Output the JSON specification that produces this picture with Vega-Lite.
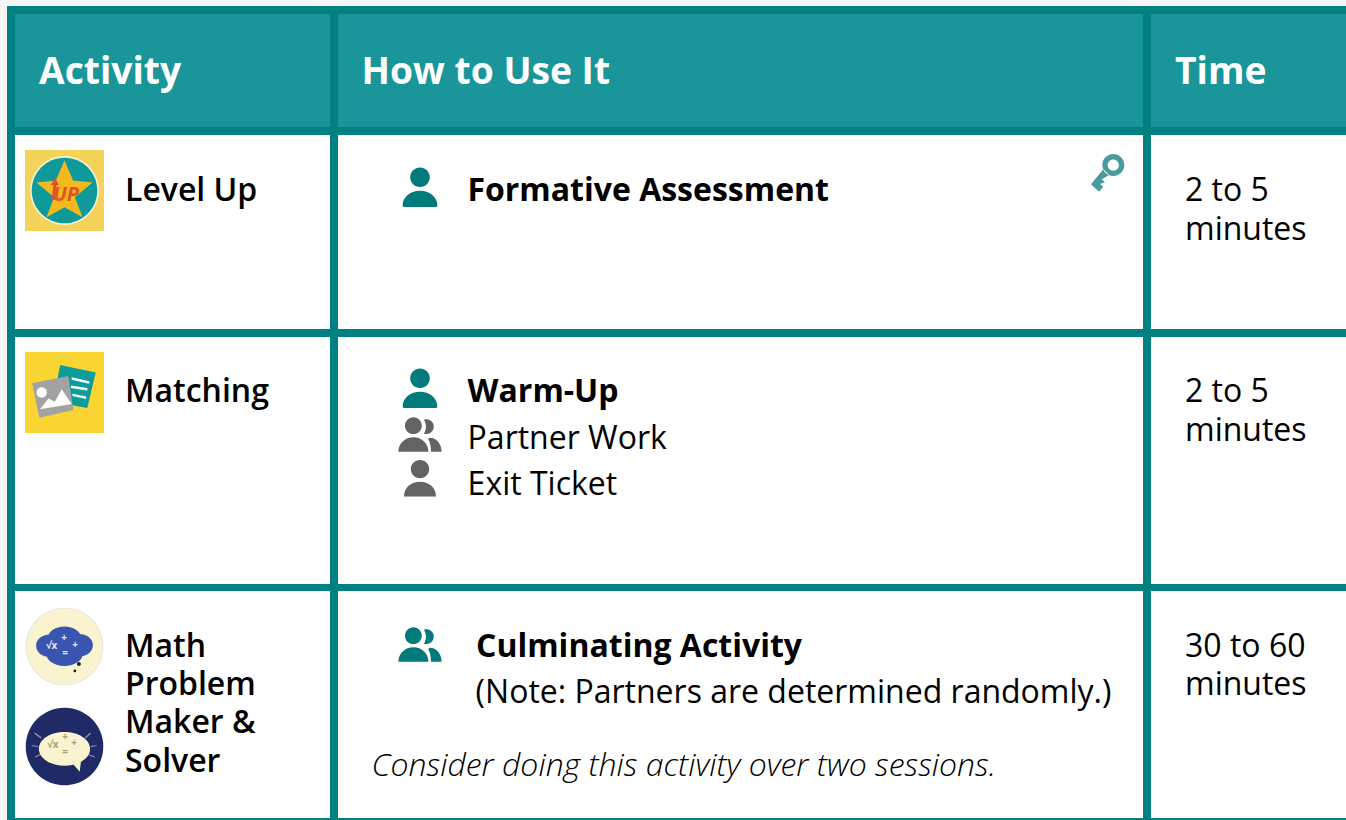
{
"$schema":"https://vega.github.io/schema/vega-lite/v6.json",
"width":1346,"height":820,"padding":0,"autosize":{"type":"none"},"background":"#f5f5f5",
"config":{"view":{"stroke":null}},
"datasets":{
"cells":[
{"part":"frame","x":7,"x2":1346,"y":6,"y2":820},
{"part":"head","x":15,"x2":330,"y":14,"y2":127},
{"part":"head","x":338,"x2":1143,"y":14,"y2":127},
{"part":"head","x":1151,"x2":1346,"y":14,"y2":127},
{"part":"body","x":15,"x2":330,"y":135,"y2":329},
{"part":"body","x":338,"x2":1143,"y":135,"y2":329},
{"part":"body","x":1151,"x2":1346,"y":135,"y2":329},
{"part":"body","x":15,"x2":330,"y":337,"y2":584},
{"part":"body","x":338,"x2":1143,"y":337,"y2":584},
{"part":"body","x":1151,"x2":1346,"y":337,"y2":584},
{"part":"body","x":15,"x2":330,"y":591,"y2":818},
{"part":"body","x":338,"x2":1143,"y":591,"y2":818},
{"part":"body","x":1151,"x2":1346,"y":591,"y2":818},
{"part":"levelup tile","x":25,"x2":104,"y":150,"y2":231},
{"part":"matching tile","x":25,"x2":104,"y":352,"y2":433}
],
"logos":[
{"part":"ring","x":64.5,"y":190.5},
{"part":"disc","x":64.5,"y":190.5},
{"part":"star","x":64.5,"y":190.5},
{"part":"arrow","x":64.5,"y":190.5},
{"part":"doc","x":64.5,"y":392.5},
{"part":"doclines","x":64.5,"y":392.5},
{"part":"photo","x":64.5,"y":392.5},
{"part":"scene","x":64.5,"y":392.5},
{"part":"creamedge","x":64.5,"y":646.5},
{"part":"cream","x":64.5,"y":646.5},
{"part":"cloud","x":64.5,"y":646.5},
{"part":"dots","x":64.5,"y":646.5},
{"part":"navy","x":64.5,"y":746.5},
{"part":"rays","x":64.5,"y":746.5},
{"part":"bubble","x":64.5,"y":746.5}
],
"icons":[
{"icon":"person teal","x":420,"y":187.5},
{"icon":"person teal","x":420,"y":388.5},
{"icon":"pair grey","x":420,"y":434.5},
{"icon":"person grey","x":420,"y":478.5},
{"icon":"pair teal","x":420,"y":644.5},
{"icon":"key","x":1107.5,"y":173.5}
],
"glyphs":[
{"t":"+","x":64,"y":637.7,"set":"cloud"},
{"t":"+","x":75,"y":645,"set":"cloud"},
{"t":"√x","x":51.7,"y":646,"set":"cloud"},
{"t":"=","x":65,"y":653.3,"set":"cloud"},
{"t":"+","x":65,"y":736.7,"set":"bubble"},
{"t":"+","x":74,"y":743,"set":"bubble"},
{"t":"√x","x":53,"y":745,"set":"bubble"},
{"t":"=","x":65,"y":752,"set":"bubble"}
],
"header":[
{"t":"Activity","x":39,"y":84.4},
{"t":"How to Use It","x":361.6,"y":84.4},
{"t":"Time","x":1175,"y":84.4}
],
"names":[
{"t":"Level Up","x":125,"y":200.5},
{"t":"Matching","x":125,"y":401.5},
{"t":"Math","x":125,"y":656.5},
{"t":"Problem","x":125,"y":694.5},
{"t":"Maker &","x":125,"y":732.5},
{"t":"Solver","x":125,"y":771.5}
],
"uses":[
{"t":"Formative Assessment","x":467.4,"y":200.5},
{"t":"Warm-Up","x":467.6,"y":401.5},
{"t":"Culminating Activity","x":476,"y":656.5}
],
"plain":[
{"t":"Partner Work","x":467.6,"y":448.5},
{"t":"Exit Ticket","x":467.6,"y":494.5},
{"t":"(Note: Partners are determined randomly.)","x":475.6,"y":702.5},
{"t":"2 to 5","x":1185,"y":200.5},
{"t":"minutes","x":1185,"y":239.5},
{"t":"2 to 5","x":1185,"y":401.5},
{"t":"minutes","x":1185,"y":440.5},
{"t":"30 to 60","x":1185,"y":656.5},
{"t":"minutes","x":1185,"y":694.5}
],
"note":[{"t":"Consider doing this activity over two sessions.","x":371.6,"y":776.4}],
"badge":[{"t":"UP","x":66,"y":201}]
},
"encoding":{
"x":{"field":"x","type":"quantitative","scale":{"domain":[0,1346]},"axis":null},
"y":{"field":"y","type":"quantitative","scale":{"domain":[0,820],"reverse":true},"axis":null}
},
"layer":[
{"data":{"name":"cells"},"mark":{"type":"rect","strokeWidth":0},
"encoding":{"x2":{"field":"x2"},"y2":{"field":"y2"},
"color":{"field":"part","type":"nominal","legend":null,"scale":{"domain":["frame","head","body","levelup tile","matching tile"],"range":["#008080","#1a9599","#ffffff","#f3d35a","#f9d433"]}}}},
{"data":{"name":"logos"},"mark":{"type":"point","filled":true,"opacity":1,"size":6400,"strokeWidth":0},
"encoding":{
"shape":{"field":"part","type":"nominal","legend":null,"scale":{
"domain":["ring","disc","star","arrow","doc","doclines","photo","scene","creamedge","cream","cloud","dots","navy","rays","bubble"],
"range":[
"M-.86 0A.86 .86 0 1 1 .86 0A.86 .86 0 1 1 -.86 0Z",
"M-.82 0A.82 .82 0 1 1 .82 0A.82 .82 0 1 1 -.82 0Z",
"M0 -.75L.215 -.25L.7 -.2L.26 .17L.45 .67L0 .42L-.45 .67L-.26 .17L-.7 -.2L-.215 -.25Z",
"M-.24 -.32L-.14 -.14L-.2 -.14L-.24 .24L-.32 .24L-.28 -.14L-.34 -.14Z",
"M-.11 -.69L.78 -.5L.57 .39L-.28 .23Z",
"M.18 -.38L.62 -.28L.62 -.22L.18 -.32ZM.16 -.175L.57 -.11L.57 -.05L.16 -.115ZM.2 .03L.54 .1L.54 .16L.2 .09Z",
"M-.81 -.23L.095 -.41L.22 .44L-.63 .63Z",
"M-.7 0A.13 .13 0 1 1 -.44 0A.13 .13 0 1 1 -.7 0ZM-.61 .42L-.4 .15L-.24 .23L-.07 -.08L.18 .29Z",
"M-.97 0A.97 .97 0 1 1 .97 0A.97 .97 0 1 1 -.97 0Z",
"M-.95 0A.95 .95 0 1 1 .95 0A.95 .95 0 1 1 -.95 0Z",
"M-.42 -.2A.42 .3 0 1 1 .42 -.2A.42 .3 0 1 1 -.42 -.2ZM-.71 -.02A.33 .28 0 1 1 -.05 -.02A.33 .28 0 1 1 -.71 -.02ZM.05 -.03A.33 .28 0 1 1 .71 -.03A.33 .28 0 1 1 .05 -.03ZM-.46 .17A.46 .32 0 1 1 .46 .17A.46 .32 0 1 1 -.46 .17Z",
"M.31 .44A.05 .05 0 1 1 .41 .44A.05 .05 0 1 1 .31 .44ZM.225 .61A.035 .035 0 1 1 .295 .61A.035 .035 0 1 1 .225 .61Z",
"M-.97 0A.97 .97 0 1 1 .97 0A.97 .97 0 1 1 -.97 0Z",
"M-.74 -.35L-.57 -.23L-.59 -.2L-.76 -.32ZM-.82 -.04L-.67 -.01L-.67 .02L-.82 -.01ZM-.74 .25L-.57 .17L-.57 .2L-.74 .28ZM.64 -.35L.51 -.23L.53 -.2L.66 -.32ZM.8 -.04L.655 -.01L.655 .02L.8 -.01ZM.76 .25L.6 .19L.6 .22L.76 .28Z",
"M-.64 .06A.64 .42 0 1 1 .64 .06A.64 .42 0 1 1 -.64 .06ZM.18 .4L.42 .3L.38 .63Z"
]}},
"color":{"field":"part","type":"nominal","legend":null,"scale":{
"domain":["ring","disc","star","arrow","doc","doclines","photo","scene","creamedge","cream","cloud","dots","navy","rays","bubble"],
"range":["#f6f0d8","#0e9a9a","#f6b91d","#e0522a","#0c9c9a","#ffffff","#a2a2a2","#ffffff","#e4e2d8","#f9f3cf","#3a55b0","#222222","#1f2a66","#8a8fa8","#f9f3cf"]}}}},
{"data":{"name":"icons"},"mark":{"type":"point","filled":true,"opacity":1,"size":1600,"strokeWidth":0},
"encoding":{
"shape":{"field":"icon","type":"nominal","legend":null,"scale":{
"domain":["person teal","person grey","pair teal","pair grey","key"],
"range":[
"M-.49 -.51A.49 .49 0 1 1 .49 -.51A.49 .49 0 1 1 -.49 -.51ZM-.87 .9C-.87 .45 -.45 .16 0 .16C.45 .16 .87 .45 .87 .9Q.87 .97 .8 .97L-.8 .97Q-.87 .97 -.87 .9Z",
"M-.46 -.47A.46 .46 0 1 1 .46 -.47A.46 .46 0 1 1 -.46 -.47ZM-.8 .9C-.8 .42 -.42 .16 0 .16C.42 .16 .8 .42 .8 .9L-.8 .9Z",
"M-.75 -.44A.42 .42 0 1 1 .09 -.44A.42 .42 0 1 1 -.75 -.44ZM.2 -.74A.37 .37 0 1 1 .2 -.04Q.4 -.39 .2 -.74ZM-1.08 .86C-1.08 .45 -.75 .14 -.33 .14C.09 .14 .42 .45 .42 .86ZM.5 .16C.85 .16 1.08 .5 1.08 .86L.55 .86C.55 .6 .5 .35 .4 .22Z",
"M-.75 -.44A.42 .42 0 1 1 .09 -.44A.42 .42 0 1 1 -.75 -.44ZM.2 -.74A.37 .37 0 1 1 .2 -.04Q.4 -.39 .2 -.74ZM-1.08 .86C-1.08 .45 -.75 .14 -.33 .14C.09 .14 .42 .45 .42 .86ZM.5 .16C.85 .16 1.08 .5 1.08 .86L.55 .86C.55 .6 .5 .35 .4 .22Z",
"M-.26 -.42A.55 .55 0 1 1 .84 -.42A.55 .55 0 1 1 -.26 -.42ZM.01 -.42A.28 .28 0 1 0 .57 -.42A.28 .28 0 1 0 .01 -.42ZM-.21 -.21L-.825 .54L-.425 .91L-.21 .66L-.375 .525L-.125 .44L-.29 .29L.09 .075Z"
]}},
"color":{"field":"icon","type":"nominal","legend":null,"scale":{
"domain":["person teal","person grey","pair teal","pair grey","key"],
"range":["#007a7a","#636363","#007a7a","#636363","#4a9a9e"]}}}},
{"data":{"name":"glyphs"},"mark":{"type":"text","font":"Open Sans","fontSize":10,"fontWeight":700,"align":"center","baseline":"middle"},
"encoding":{"text":{"field":"t"},"color":{"field":"set","type":"nominal","legend":null,"scale":{"domain":["cloud","bubble"],"range":["#dfe4f5","#a89f7a"]}}}},
{"data":{"name":"badge"},"mark":{"type":"text","font":"Open Sans","fontSize":20,"fontWeight":700,"fontStyle":"italic","align":"center","baseline":"alphabetic","color":"#e0522a"},"encoding":{"text":{"field":"t"}}},
{"data":{"name":"header"},"mark":{"type":"text","font":"Open Sans","fontSize":37.2,"fontWeight":700,"align":"left","baseline":"alphabetic","color":"#ffffff"},"encoding":{"text":{"field":"t"}}},
{"data":{"name":"names"},"mark":{"type":"text","font":"Open Sans","fontSize":32,"fontWeight":600,"align":"left","baseline":"alphabetic","color":"#000000"},"encoding":{"text":{"field":"t"}}},
{"data":{"name":"uses"},"mark":{"type":"text","font":"Open Sans","fontSize":32,"fontWeight":700,"align":"left","baseline":"alphabetic","color":"#000000"},"encoding":{"text":{"field":"t"}}},
{"data":{"name":"plain"},"mark":{"type":"text","font":"Open Sans","fontSize":32,"fontWeight":400,"align":"left","baseline":"alphabetic","color":"#000000"},"encoding":{"text":{"field":"t"}}},
{"data":{"name":"note"},"mark":{"type":"text","font":"Open Sans","fontSize":32,"fontWeight":300,"fontStyle":"italic","align":"left","baseline":"alphabetic","color":"#000000"},"encoding":{"text":{"field":"t"}}}
],
"resolve":{"scale":{"color":"independent","shape":"independent"}}
}
